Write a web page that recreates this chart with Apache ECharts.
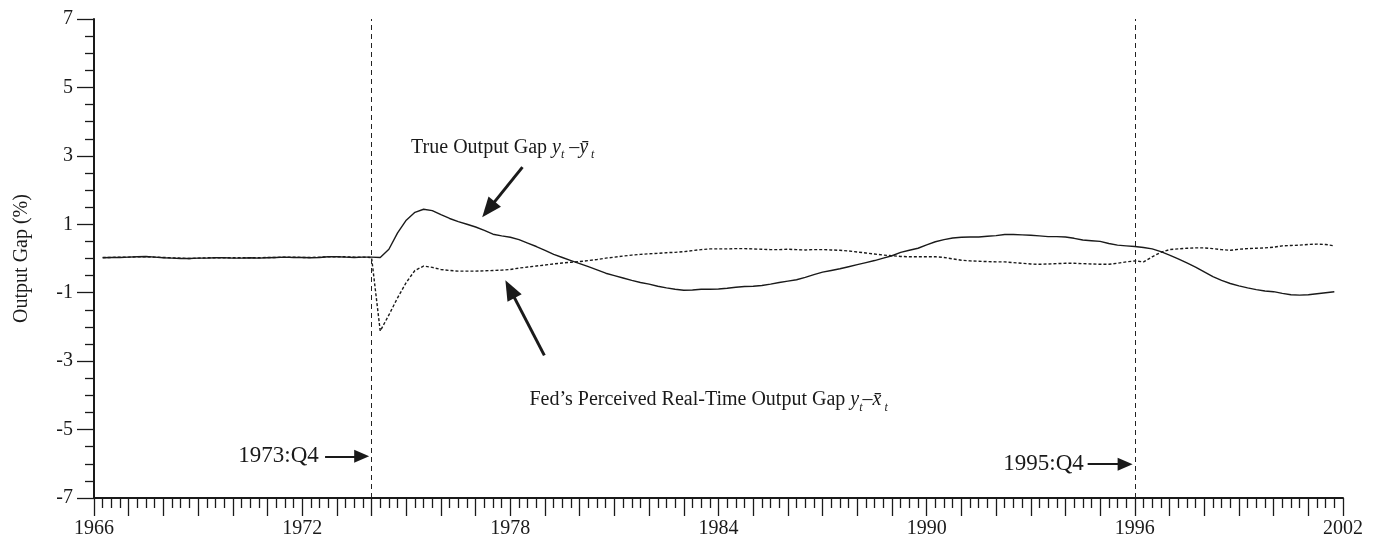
<!DOCTYPE html>
<html>
<head>
<meta charset="utf-8">
<script src="https://cdn.jsdelivr.net/npm/echarts@6/dist/echarts.min.js"></script>
<style>
html,body{margin:0;padding:0;background:#fff;}
#chart{width:1379px;height:542px;}
</style>
</head>
<body>
<div id="chart"></div>
<script>
// ---------- data ----------
var firstYear = 1966;       // first observation 1966:Q1
var firstQuarter = 1;
var xTickLabels = ['1966','1972','1978','1984','1990','1996','2002'];
var yTickLabels = ['-7','-5','-3','-1','1','3','5','7'];
var breakQuarters = ['1973:Q4','1995:Q4'];

// True output gap, quarterly 1966:Q1 - 2001:Q3 (one row per year)
var trueGap = [
  0.02,0.03,0.03,0.04,   // 1966
  0.05,0.06,0.04,0.02,   // 1967
  0.01,0.00,0.00,0.01,   // 1968
  0.01,0.02,0.02,0.01,   // 1969
  0.01,0.02,0.01,0.02,   // 1970
  0.03,0.04,0.03,0.03,   // 1971
  0.02,0.03,0.05,0.05,   // 1972
  0.04,0.03,0.04,0.04,   // 1973
  0.03,0.27,0.75,1.12,   // 1974
  1.35,1.44,1.40,1.28,   // 1975
  1.17,1.08,1.00,0.92,   // 1976
  0.82,0.71,0.66,0.62,   // 1977
  0.55,0.45,0.35,0.24,   // 1978
  0.12,0.03,-0.06,-0.15, // 1979
  -0.24,-0.33,-0.43,-0.50, // 1980
  -0.57,-0.64,-0.70,-0.75, // 1981
  -0.81,-0.86,-0.90,-0.93, // 1982
  -0.92,-0.90,-0.90,-0.89, // 1983
  -0.87,-0.84,-0.82,-0.81, // 1984
  -0.79,-0.75,-0.70,-0.66, // 1985
  -0.62,-0.55,-0.47,-0.40, // 1986
  -0.35,-0.30,-0.24,-0.18, // 1987
  -0.12,-0.06,0.01,0.08,   // 1988
  0.18,0.24,0.30,0.40,     // 1989
  0.49,0.55,0.60,0.62,     // 1990
  0.63,0.63,0.65,0.67,     // 1991
  0.70,0.70,0.69,0.68,     // 1992
  0.66,0.64,0.64,0.63,     // 1993
  0.59,0.54,0.52,0.50,     // 1994
  0.44,0.39,0.37,0.35,     // 1995
  0.32,0.28,0.20,0.10,     // 1996
  -0.01,-0.13,-0.25,-0.39, // 1997
  -0.53,-0.64,-0.73,-0.80, // 1998
  -0.86,-0.91,-0.95,-0.97, // 1999
  -1.02,-1.06,-1.07,-1.06, // 2000
  -1.03,-1.00,-0.97        // 2001
];

// Fed's perceived real-time output gap, same quarters
var fedGap = [
  0.03,0.03,0.04,0.04,   // 1966
  0.05,0.05,0.04,0.03,   // 1967
  0.02,0.01,0.00,0.01,   // 1968
  0.02,0.02,0.02,0.02,   // 1969
  0.02,0.02,0.02,0.03,   // 1970
  0.03,0.04,0.04,0.03,   // 1971
  0.03,0.04,0.05,0.05,   // 1972
  0.05,0.04,0.04,0.03,   // 1973
  -2.12,-1.65,-1.15,-0.70, // 1974
  -0.35,-0.22,-0.26,-0.32, // 1975
  -0.35,-0.37,-0.37,-0.37, // 1976
  -0.36,-0.35,-0.34,-0.32, // 1977
  -0.28,-0.25,-0.22,-0.19, // 1978
  -0.16,-0.13,-0.11,-0.09, // 1979
  -0.06,-0.03,0.01,0.04,   // 1980
  0.07,0.10,0.12,0.14,     // 1981
  0.15,0.17,0.18,0.20,     // 1982
  0.23,0.26,0.28,0.28,     // 1983
  0.28,0.29,0.29,0.28,     // 1984
  0.27,0.26,0.26,0.27,     // 1985
  0.26,0.25,0.26,0.26,     // 1986
  0.25,0.24,0.22,0.19,     // 1987
  0.16,0.13,0.10,0.08,     // 1988
  0.06,0.05,0.05,0.05,     // 1989
  0.05,0.03,-0.01,-0.05,   // 1990
  -0.07,-0.08,-0.09,-0.10, // 1991
  -0.10,-0.12,-0.14,-0.16, // 1992
  -0.17,-0.16,-0.15,-0.14, // 1993
  -0.14,-0.15,-0.16,-0.17, // 1994
  -0.17,-0.14,-0.10,-0.07, // 1995
  -0.10,0.05,0.18,0.26,    // 1996
  0.28,0.30,0.31,0.31,     // 1997
  0.29,0.26,0.24,0.27,     // 1998
  0.29,0.30,0.31,0.33,     // 1999
  0.37,0.38,0.39,0.41,     // 2000
  0.42,0.41,0.37           // 2001
];

// ---------- build quarter time axis ----------
function quarterTime(label) {           // 'YYYY:Qn' -> year + n/4
  var p = label.split(':Q');
  return +p[0] + (+p[1]) / 4;
}
var quarters = [];
(function(){
  var y = firstYear, q = firstQuarter;
  for (var i = 0; i < trueGap.length; i++) {
    quarters.push(y + ':Q' + q);
    q++; if (q > 4) { q = 1; y++; }
  }
})();
function pairs(vals){ return vals.map(function(v,i){ return [quarterTime(quarters[i]), v]; }); }

var FONT = '"Liberation Serif","Times New Roman",serif';
var INK = '#1a1a1a';

var chart = echarts.init(document.getElementById('chart'), null, {renderer:'canvas'});

var mathRich = {
  n:  {fontFamily: FONT, fontSize: 20, color: INK, lineHeight: 28, verticalAlign:'middle'},
  i:  {fontFamily: FONT, fontSize: 20, fontStyle:'italic', color: INK, lineHeight: 28, verticalAlign:'middle'},
  s:  {fontFamily: FONT, fontSize: 12, fontStyle:'italic', color: INK, lineHeight: 12, verticalAlign:'bottom'}
};

function arrow(from, to, width, head) {
  return [
    {coord: from, symbol: 'none', lineStyle: {color: INK, width: width, type: 'solid'}},
    {coord: to, symbol: 'triangle', symbolSize: head}
  ];
}

var option = {
  animation: false,
  backgroundColor: '#fff',
  grid: {left: 94, right: 36, top: 19, bottom: 44},
  xAxis: {
    type: 'value', min: 1966, max: 2002, interval: 1,
    axisLine: {onZero: false, lineStyle: {color: INK, width: 2}},
    axisTick: {show: true, length: 18, inside: false, lineStyle: {color: INK, width: 1.3}},
    minorTick: {show: true, splitNumber: 4, length: 10, lineStyle: {color: INK, width: 1.3}},
    splitLine: {show: false},
    axisLabel: {
      color: INK, fontFamily: FONT, fontSize: 20, margin: 21,
      formatter: function(v){ var s = String(Math.round(v)); return xTickLabels.indexOf(s) >= 0 ? s : ''; }
    }
  },
  yAxis: {
    type: 'value', min: -7, max: 7, interval: 2,
    name: 'Output Gap (%)', nameLocation: 'middle', nameGap: 62, nameRotate: 90,
    nameTextStyle: {color: INK, fontFamily: FONT, fontSize: 20},
    axisLine: {show: true, onZero: false, lineStyle: {color: INK, width: 2}},
    axisTick: {show: true, length: 17, lineStyle: {color: INK, width: 1.3}},
    minorTick: {show: true, splitNumber: 4, length: 9, lineStyle: {color: INK, width: 1.3}},
    splitLine: {show: false},
    axisLabel: {
      color: INK, fontFamily: FONT, fontSize: 20, margin: 21,
      formatter: function(v){ var s = String(Math.round(v)); return yTickLabels.indexOf(s) >= 0 ? s : ''; }
    }
  },
  series: [
    {
      name: 'True Output Gap', type: 'line', showSymbol: false, smooth: false,
      data: pairs(trueGap),
      lineStyle: {color: INK, width: 1.4, type: 'solid'},
      z: 3,
      markLine: {
        silent: true, symbol: ['none','none'],
        label: {show: false},
        lineStyle: {color: '#222', width: 1, type: [5,4]},
        data: breakQuarters.map(function(b){ return {xAxis: quarterTime(b)}; })
      }
    },
    {
      name: "Fed's Perceived Real-Time Output Gap", type: 'line', showSymbol: false,
      data: pairs(fedGap),
      lineStyle: {color: INK, width: 1.4, type: [3,2]},
      z: 2
    },
    {
      name: 'annotations', type: 'line', data: [], silent: true,
      markLine: {
        silent: true, symbol: ['none','triangle'], label: {show:false},
        data: [
          arrow([1978.35, 2.67], [1977.37, 1.435], 3, [16,20]),
          arrow([1978.98,-2.83], [1977.99,-0.895], 3, [16,20]),
          arrow([1972.66,-5.78], [1973.715,-5.78], 2, [13,15]),
          arrow([1994.64,-6.01], [1995.72,-6.01], 2, [13,15])
        ]
      },
      markPoint: {
        silent: true, symbol: 'circle', symbolSize: 0,
        data: [
          {coord:[1975.14, 3.25], label:{show:true, position:'right', distance:0,
            formatter:'{n|True Output Gap }{i|y}{s|t}{n| –}{i|ȳ}{s| t}', rich: mathRich}},
          {coord:[1978.55,-4.12], label:{show:true, position:'right', distance:0,
            formatter:'{n|Fed’s Perceived Real-Time Output Gap }{i|y}{s|t}{n|–}{i|x̄}{s| t}', rich: mathRich}},
          {coord:[1972.48,-5.78], label:{show:true, position:'left', distance:0,
            formatter: breakQuarters[0], color: INK, fontFamily: FONT, fontSize: 23}},
          {coord:[1994.53,-6.01], label:{show:true, position:'left', distance:0,
            formatter: breakQuarters[1], color: INK, fontFamily: FONT, fontSize: 23}}
        ]
      }
    }
  ]
};
chart.setOption(option);
</script>
</body>
</html>
